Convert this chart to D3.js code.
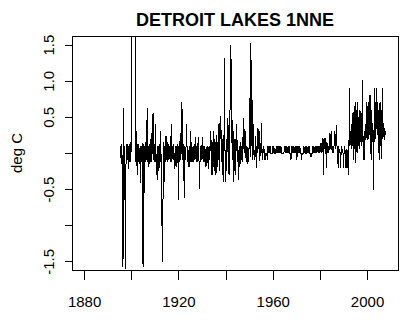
<!DOCTYPE html>
<html>
<head>
<meta charset="utf-8">
<script src="https://cdn.jsdelivr.net/npm/d3@7"></script>
<style>
  body { margin: 0; background: #fff; }
  text { font-family: "Liberation Sans", Arial, sans-serif; }
</style>
</head>
<body>
<svg id="chart" width="416" height="323"></svg>
<script>
// quarterly series, first value at 1895.5
var startYear = 1895.5
var stepYear = 0.25

// temperature adjustment (deg C)
var anomaly = [
	// 1895.50
	0.1, -0.15, 0.12, -0.3, -1.58, 0.62, -0.12, 0.1, -1.6, -0.2, 0.12, -0.1, 0.12, -0.22, 0.1, -0.12, 0.15, -0.12, 0.1, 2.5,
	// 1900.50
	2.6, 2.4, 2.7, 2.5, 2.6, 0.1, -0.12, 0.3, -0.3, 0.12, -0.12, 0.12, -0.15, 0.1, -0.42, 0.1, -0.12, 0.14, -1.58, 0.12,
	// 1905.50
	-0.55, 0.1, -0.12, 0.15, -0.1, 0.62, -0.12, 0.1, -0.2, 0.12, -0.12, 0.1, 0.28, -0.12, 0.35, 0.56, -0.1, 0.12, -0.12, 0.4,
	// 1910.50
	-0.12, -0.3, 0.1, -0.37, 0.1, -0.25, 0.12, -0.12, 0.31, -0.3, -0.88, -1.51, -0.55, 0.15, -0.4, 0.1, -0.12, 0.24, -0.1, 0.15,
	// 1915.50
	-0.12, 0.12, -0.1, 0.1, -0.12, 0.1, 0.4, -0.12, 0.1, -0.1, 0.12, -0.1, -0.22, 0.1, -0.2, 0.1, -0.12, 0.12, -0.65, 0.1,
	// 1920.50
	-0.12, 0.28, -0.1, 0.1, 0.71, -0.1, 0.12, -0.12, -0.62, 0.1, -0.1, 0.1, 0.4, -0.12, 0.1, -0.1, -0.2, 0.1, -0.12, 0.31,
	// 1925.50
	-0.12, 0.1, -0.13, 0.1, -0.12, 0.12, -0.1, 0.22, -0.12, 0.1, -0.13, 0.1, 0.22, -0.12, -0.5, 0.1, -0.12, 0.11, -0.1, 0.22,
	// 1930.50
	-0.12, 0.1, -0.12, 0.1, -0.2, 0.08, -0.18, 0.1, -0.12, -0.22, 0.1, -0.1, 0.1, 0.31, -0.12, -0.31, 0.15, -0.2, 0.3, -0.25,
	// 1935.50
	0.2, -0.31, 0.25, -0.28, 0.15, -0.2, 0.3, 0.42, -0.25, 0.51, 0.49, -0.12, 0.2, -0.3, 0.1, -0.4, 1.31, 0.05, -0.4, 0.2,
	// 1940.50
	-0.25, 0.3, 0.49, -0.2, -0.31, 0.45, 0.72, 1.5, 0.72, 0.1, 0.45, -0.4, 0.3, -0.25, 0.2, -0.3, 0.15, 0.4, -0.12, 0.1,
	// 1945.50
	-0.37, 0.1, -0.2, 0.15, -0.15, 0.1, -0.12, 0.22, 0.05, 0.49, 0.0, 0.3, 0.05, -0.12, 0.1, -0.15, 0.08, -0.12, 0.1, 0.76,
	// 1950.50
	-0.05, 1.52, 0.1, 0.74, -0.09, 0.4, 0.0, -0.09, 0.05, 0.23, -0.21, 0.1, 0.0, 0.34, 0.05, 0.3, -0.11, 0.05, 0.1, 0.41,
	// 1955.50
	-0.09, 0.05, 0.0, 0.09, -0.09, 0.0, -0.09, 0.0, 0.0, -0.09, 0.09, 0.0, 0.09, 0.0, 0.09, 0.0, 0.0, 0.0, 0.09, 0.0,
	// 1960.50
	0.09, 0.0, 0.0, 0.0, 0.09, 0.0, 0.09, 0.0, 0.09, 0.0, 0.09, 0.0, 0.09, 0.0, 0.0, 0.0, 0.0, 0.0, 0.09, 0.0,
	// 1965.50
	0.09, 0.0, 0.09, 0.0, 0.09, 0.0, 0.09, 0.0, 0.0, -0.09, 0.09, 0.0, 0.09, 0.0, 0.09, 0.0, 0.09, 0.0, 0.09, -0.09,
	// 1970.50
	0.09, 0.0, 0.09, 0.0, 0.09, 0.0, 0.0, -0.09, 0.0, 0.0, 0.0, 0.09, 0.0, 0.09, 0.0, 0.0, 0.09, 0.0, 0.09, 0.0,
	// 1975.50
	0.09, 0.0, 0.0, -0.06, 0.0, 0.0, 0.09, 0.0, 0.09, 0.0, 0.09, 0.0, 0.09, 0.0, 0.09, 0.0, 0.09, 0.0, 0.09, 0.14,
	// 1980.50
	0.0, 0.14, 0.02, 0.21, -0.3, 0.21, 0.05, 0.21, 0.1, -0.21, 0.15, 0.0, 0.1, 0.0, 0.09, 0.28, 0.05, 0.3, 0.1, 0.0,
	// 1985.50
	0.09, 0.0, 0.1, 0.3, 0.05, 0.2, 0.39, 0.1, 0.0, -0.21, 0.09, 0.0, 0.05, -0.21, 0.0, 0.09, 0.0, 0.05, -0.21, 0.0,
	// 1990.50
	0.09, 0.0, -0.21, 0.05, -0.21, 0.0, 0.05, -0.3, 0.9, 0.1, 0.3, 0.05, 0.4, 0.1, 0.55, -0.1, 0.65, 0.05, 0.7, -0.14,
	// 1995.50
	0.6, 0.0, 0.71, 0.1, 0.5, 0.05, 0.6, 0.15, 0.55, 0.1, 1.01, 0.2, -0.09, 0.3, -0.09, 0.4, 0.2, 0.71, 0.18, 0.65,
	// 2000.50
	0.2, 0.71, 0.25, 0.8, 0.2, -0.09, 0.6, 0.15, 0.4, -0.51, 0.3, 0.9, 0.2, 0.65, 0.9, 0.25, 0.7, 0.0, 0.6, -0.1,
	// 2005.50
	0.7, 0.1, 0.6, -0.08, 0.9, 0.2, 0.41, 0.18, 0.35, 0.25
]

var xLimits = [1880, 2008]
var yLimits = [-1.5, 1.5]
var xTicks = [1880, 1900, 1920, 1940, 1960, 1980, 2000]
var xLabels = ["1880", "", "1920", "", "1960", "", "2000"]
var yTicks = [-1.5, -1.0, -0.5, 0, 0.5, 1.0, 1.5]
var yLabels = ["-1.5", "", "-0.5", "", "0.5", "1.0", "1.5"]

var titleText = "DETROIT LAKES 1NNE"
var yTitle = "deg C"

var svg = d3.select("#chart")
var svgWidth = +svg.attr("width")
var svgHeight = +svg.attr("height")

var padding = {t: 36, r: 18, b: 53, l: 72}
var chartWidth = svgWidth - padding.l - padding.r
var chartHeight = svgHeight - padding.t - padding.b

// R style: pad the limits by 4% on each side
function extend(lim) {
	var d = (lim[1] - lim[0]) * 0.04
	return [lim[0] - d, lim[1] + d]
}

var x = d3.scaleLinear()
	.domain(extend(xLimits))
	.range([padding.l, padding.l + chartWidth])

var y = d3.scaleLinear()
	.domain(extend(yLimits))
	.range([padding.t + chartHeight, padding.t])

var series = anomaly.map(function(v, i) {
	return {year: startYear + i * stepYear, value: v}
})

svg.append("defs").append("clipPath")
	.attr("id", "plotClip")
	.append("rect")
	.attr("x", padding.l)
	.attr("y", padding.t)
	.attr("width", chartWidth)
	.attr("height", chartHeight)

var line = d3.line()
	.x(function(d) { return x(d.year) })
	.y(function(d) { return y(d.value) })

svg.append("path")
	.datum(series)
	.attr("clip-path", "url(#plotClip)")
	.attr("d", line)
	.attr("fill", "none")
	.attr("stroke", "black")
	.attr("stroke-width", 1)
	.attr("shape-rendering", "crispEdges")

// box
svg.append("rect")
	.attr("x", padding.l + 0.5)
	.attr("y", padding.t + 0.5)
	.attr("width", chartWidth)
	.attr("height", chartHeight)
	.attr("fill", "none")
	.attr("stroke", "black")
	.attr("shape-rendering", "crispEdges")

// x axis
var xAxisG = svg.append("g")
	.attr("transform", "translate(0," + (padding.t + chartHeight + 0.5) + ")")
	.call(d3.axisBottom(x)
		.tickValues(xTicks)
		.tickFormat(function(d, i) { return xLabels[i] })
		.tickSize(9))
xAxisG.select(".domain").remove()
xAxisG.selectAll("line").attr("shape-rendering", "crispEdges")
xAxisG.selectAll("text")
	.attr("y", 36)
	.attr("dy", 0)
	.attr("fill", "black")
	.style("font-size", "15px")

// y axis, labels turned like R's las = 0
var yAxisG = svg.append("g")
	.attr("transform", "translate(" + (padding.l + 0.5) + ",0)")
	.call(d3.axisLeft(y)
		.tickValues(yTicks)
		.tickFormat(function(d, i) { return yLabels[i] })
		.tickSize(8))
yAxisG.select(".domain").remove()
yAxisG.selectAll("line").attr("shape-rendering", "crispEdges")
yAxisG.selectAll("text")
	.attr("transform", "rotate(-90)")
	.attr("x", 0)
	.attr("y", -19)
	.attr("dy", 0)
	.attr("text-anchor", "middle")
	.attr("fill", "black")
	.style("font-size", "15px")

svg.append("text")
	.attr("transform", "translate(" + 22 + "," + (padding.t + chartHeight / 2) + ")rotate(-90)")
	.attr("text-anchor", "middle")
	.style("font-size", "15px")
	.text(yTitle)

svg.append("text")
	.attr("x", padding.l + chartWidth / 2)
	.attr("y", 26)
	.attr("text-anchor", "middle")
	.style("font-size", "18px")
	.style("font-weight", "bold")
	.text(titleText)
</script>
</body>
</html>
